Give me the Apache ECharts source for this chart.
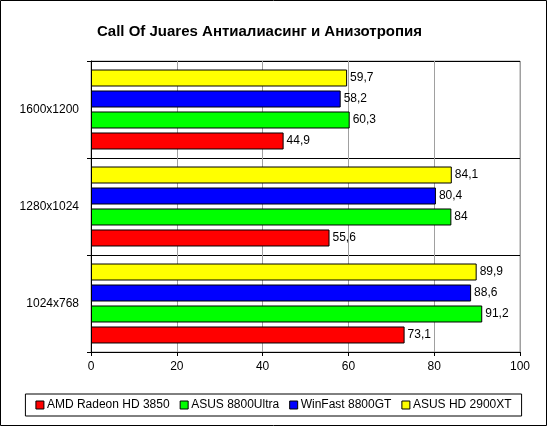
<!DOCTYPE html>
<html>
<head>
<meta charset="utf-8">
<script src="https://cdn.jsdelivr.net/npm/echarts@6/dist/echarts.min.js"></script>
<style>
html, body { margin: 0; padding: 0; background: #fff; }
#chart { width: 547px; height: 426px; }
</style>
</head>
<body>
<div id="chart"></div>
<script>
// данные с картинки
var resolutions = ['1024x768', '1280x1024', '1600x1200'];
var seriesNames = ['AMD Radeon HD 3850', 'ASUS 8800Ultra', 'WinFast 8800GT', 'ASUS HD 2900XT'];
var seriesColors = ['#ff0000', '#00ff00', '#0000ff', '#ffff00'];
var amdHD3850 = [73.1, 55.6, 44.9];
var asus8800Ultra = [91.2, 84, 60.3];
var winfast8800GT = [88.6, 80.4, 58.2];
var asusHD2900XT = [89.9, 84.1, 59.7];
var seriesValues = [amdHD3850, asus8800Ultra, winfast8800GT, asusHD2900XT];
var xTicks = [0, 20, 40, 60, 80, 100];

var font = 'Arial, "Liberation Sans", sans-serif';
var myChart = echarts.init(document.getElementById('chart'));

// первая серия рисуется сверху, поэтому идём в обратном порядке
var series = [];
for (var i = seriesNames.length - 1; i >= 0; i--) {
    series.push({
        name: seriesNames[i],
        type: 'bar',
        data: seriesValues[i],
        barWidth: 17,
        barGap: '23.5%',
        itemStyle: { color: seriesColors[i], borderColor: '#000', borderWidth: 1 },
        label: {
            show: true,
            position: 'right',
            distance: 3,
            color: '#000',
            fontFamily: font,
            fontSize: 12,
            formatter: function(p) { return String(p.value).replace('.', ','); }
        }
    });
}

var option = {
    animation: false,
    backgroundColor: '#fff',
    title: {
        text: 'Call Of Juares Антиалиасинг и Анизотропия',
        left: 92,
        top: 19,
        textStyle: { fontFamily: font, fontSize: 15, fontWeight: 'bold', color: '#000' }
    },
    graphic: [{
        type: 'rect',
        shape: { x: 0.5, y: 0.5, width: 546, height: 425 },
        style: { fill: null, stroke: '#000', lineWidth: 1 },
        silent: true
    }],
    legend: {
        data: seriesNames,
        left: 'center',
        top: 394,
        icon: 'rect',
        itemWidth: 8,
        itemHeight: 8,
        itemGap: 10,
        padding: [5, 10, 5, 10],
        borderColor: '#000',
        borderWidth: 1,
        itemStyle: { borderColor: '#000', borderWidth: 1 },
        textStyle: { fontFamily: font, fontSize: 12, color: '#000', padding: [0, 0, 0, -2] }
    },
    grid: {
        left: 91,
        right: 27,
        top: 61,
        bottom: 74,
        show: true,
        borderColor: '#a0a0a0',
        borderWidth: 1
    },
    xAxis: {
        type: 'value',
        min: xTicks[0],
        max: xTicks[xTicks.length - 1],
        interval: 20,
        axisLine: { show: true, lineStyle: { color: '#000' } },
        axisTick: { show: true, length: 4, lineStyle: { color: '#000' } },
        axisLabel: { color: '#000', fontFamily: font, fontSize: 12, margin: 9 },
        splitLine: { show: true, lineStyle: { color: '#a0a0a0' } }
    },
    yAxis: {
        type: 'category',
        data: resolutions,
        axisLine: { show: true, lineStyle: { color: '#000' } },
        axisTick: { show: true, length: 4, lineStyle: { color: '#000' } },
        axisLabel: { color: '#000', fontFamily: font, fontSize: 12, margin: 12 },
        splitLine: {
            show: true,
            interval: function(index) { return index === 1 || index === 2; },
            lineStyle: { color: '#000' }
        }
    },
    series: series
};

myChart.setOption(option);
</script>
</body>
</html>
